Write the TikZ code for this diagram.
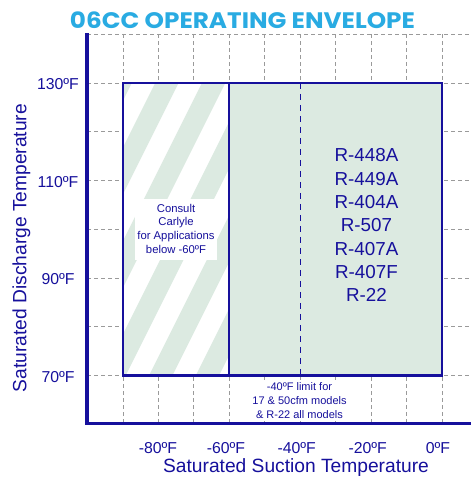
\documentclass[tikz,border=0pt]{standalone}
\usepackage{fontspec}
\setmainfont{Liberation Sans}
\newfontfamily\titlefont{Poppins}
\usepackage{graphicx}
\definecolor{navy}{RGB}{22,16,156}
\definecolor{envgreen}{HTML}{DCEAE1}
\definecolor{titleblue}{HTML}{29ABE2}
\definecolor{gridgray}{HTML}{9A9A9A}
\begin{document}
\begin{tikzpicture}[x=1pt,y=1pt,
  gridline/.style={gridgray, line width=0.8pt, dash pattern=on 4pt off 3pt},
  border/.style={navy, line width=2.2pt},
  axisline/.style={navy, line width=3.5pt, line join=miter},
  lbl/.style={text=navy, inner sep=0pt, anchor=base},
  ticklbl/.style={lbl, font=\fontsize{15.8}{18}\selectfont},
  axtitle/.style={lbl, font=\fontsize{19.2}{22}\selectfont},
  reflbl/.style={lbl, font=\fontsize{18.8}{22}\selectfont},
  notelbl/.style={lbl, font=\fontsize{11.3}{13}\selectfont},
  limlbl/.style={lbl, font=\fontsize{11}{13}\selectfont},
  limitline/.style={navy, line width=1.3pt, dash pattern=on 6pt off 5pt}]
\useasboundingbox[fill=white] (0,0) rectangle (471,477);

% grid
\foreach \yy in {442.75,394,345.25,296.5,247.75,199,150.25,101.5}
  \draw[gridline] (87,\yy) -- (471,\yy);
\foreach \k in {0,...,9}
  \draw[gridline] ({123+35.444*\k},442.75) -- ({123+35.444*\k},53.5);

% envelope fills
\fill[white] (123,101.5) rectangle (229.3,394);
\fill[envgreen] (229.3,101.5) rectangle (442,394);
\begin{scope}
  \clip (123,101.5) rectangle (229.3,394);
  \foreach \k in {-2,...,5} {
    \pgfmathsetmacro{\xl}{155.2+46.7*\k}
    \fill[envgreen] (\xl,394) -- ++(23.35,0) -- ++(-146.25,-292.5) -- ++(-23.35,0) -- cycle;
  }
\end{scope}

% note box
\node (notebox) [fill=white, minimum width=82pt, minimum height=61pt, inner sep=0pt] at (176,247.5) {};
\node (note1) [notelbl] at (176,264.7) {Consult};
\node (note2) [notelbl] at (176,251) {Carlyle};
\node (note3) [notelbl] at (176,237) {for Applications};
\node (note4) [notelbl] at (176,223) {below -60ºF};

% borders
\draw[border] (123,101.5) rectangle (442,394);
\draw[border] (229.3,101.5) -- (229.3,394);
\draw[limitline] (300.2,394) -- (300.2,101.5);

% limit note
\node (limbox) [fill=white, minimum width=104pt, minimum height=41pt, inner sep=0pt] at (300,76.5) {};
\node (lim1) [limlbl] at (299.5,86.3) {-40ºF limit for};
\node (lim2) [limlbl] at (299.5,72.5) {17 \& 50cfm models};
\node (lim3) [limlbl] at (299.5,58.7) {\& R-22 all models};

% axes
\draw[axisline] (87,443.7) -- (87,53.5) -- (471,53.5);

% refrigerants
\node (r1) [reflbl] at (366.5,315.3) {R-448A};
\node (r2) [reflbl] at (366.5,291.97) {R-449A};
\node (r3) [reflbl] at (366.5,268.64) {R-404A};
\node (r4) [reflbl] at (366.5,245.31) {R-507};
\node (r5) [reflbl] at (366.5,221.98) {R-407A};
\node (r6) [reflbl] at (366.5,198.65) {R-407F};
\node (r7) [reflbl] at (366.5,175.32) {R-22};

% y tick labels
\node (y130) [ticklbl] at (58,387) {130ºF};
\node (y110) [ticklbl] at (58,289.5) {110ºF};
\node (y90) [ticklbl] at (58,192) {90ºF};
\node (y70) [ticklbl] at (58,94.5) {70ºF};

% x tick labels
\node (xm80) [ticklbl] at (158,23.7) {-80ºF};
\node (xm60) [ticklbl] at (226,23.7) {-60ºF};
\node (xm40) [ticklbl] at (296.7,23.7) {-40ºF};
\node (xm20) [ticklbl] at (367.7,23.7) {-20ºF};
\node (x0) [ticklbl] at (438,23.7) {0ºF};

% axis titles
\node (xtitle) [axtitle] at (296,4.5) {Saturated Suction Temperature};
\node (ytitle) [axtitle, rotate=90] at (26.5,229) {Saturated Discharge Temperature};

% title
\node (title) [anchor=base, text=titleblue, inner sep=0pt] at (242.5,448.7)
  {\resizebox{345pt}{16.7pt}{\titlefont\bfseries 06CC OPERATING ENVELOPE}};
\end{tikzpicture}
\end{document}
